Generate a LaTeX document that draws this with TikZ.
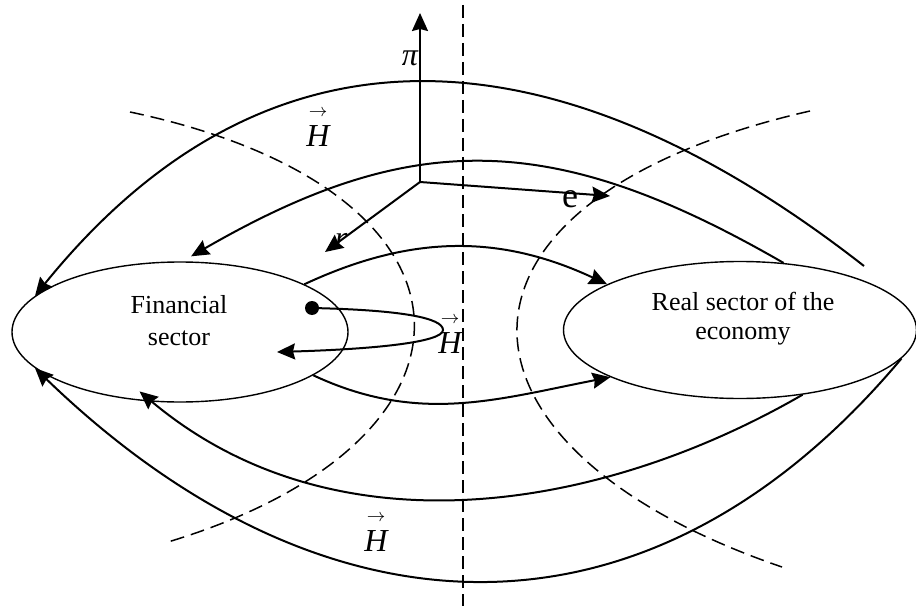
\documentclass[tikz,border=0pt]{standalone}
\usepackage{fontspec}
\setmainfont{Liberation Serif}
\usetikzlibrary{shapes.geometric,arrows.meta}
\begin{document}
\begin{tikzpicture}[x=0.5pt,y=-0.5pt,>={Stealth[length=9pt,width=8pt,inset=1pt]},
  sector/.style={draw, ellipse, line width=0.7pt, inner sep=0pt},
  flow/.style={->, line width=1pt},
  guide/.style={dash pattern=on 7pt off 3.5pt, line width=0.75pt},
  sym/.style={inner sep=0pt, font=\fontsize{16}{16}\selectfont\itshape},
  field/.style={sym, label={[inner sep=0pt, label distance=4pt, font=\fontsize{9}{9}\selectfont]above:$\rightarrow$}}]
\useasboundingbox (0,0) rectangle (916,610);

% sectors
\node[sector, minimum width=168pt, minimum height=70pt] (fin) at (180,332) {};
\node[sector, minimum width=176.5pt, minimum height=68.5pt] (real) at (740,330) {};
\node[align=center, font=\fontsize{13}{16}\selectfont] (fintext) at (179,321) {Financial\\sector};
\node[align=center, font=\fontsize{13}{14.5}\selectfont] (realtext) at (743,319) {Real sector of the\\economy};

% dashed guides
\draw[guide, dash pattern=on 6.5pt off 3pt] (463,5) -- (463,606);
\draw[guide] (130,112) .. controls (500,190) and (505,440) .. (168,542);
\draw[guide] (810,111) .. controls (420,200) and (428,446) .. (782,567);

% axes
\node[sym] (pilabel) at (410,58) {π};
\node[inner sep=0pt, font=\fontsize{18}{18}\selectfont] (elabel) at (570,199) {e};
\node[sym] (rlabel) at (341,241) {r};
\coordinate (o) at (420,182);
\coordinate (piend) at (420,13);
\coordinate (eend) at (610,196);
\coordinate (rend) at (325,252);
\draw[->, line width=1pt] (o) -- (piend);
\draw[->, line width=1pt] (o) -- (eend);
\draw[->, line width=1pt] (o) -- (rend);

% flows between the sectors
\coordinate (outstart) at (864,266);
\draw[flow] (outstart) to[out=142, in=51, looseness=1.17] (fin.166);
\draw[flow, shorten >=5pt] (real.57) to[out=150, in=30, looseness=1.13] (fin.88);
\draw[flow] (fin.21) to[out=25, in=155] (real.161);
\draw[flow] (fin.-18) to[out=-25, in=191] (real.-160);
\draw[flow, shorten >=-8pt] (real.-46) to[out=210, in=-40, looseness=0.93] (fin.-112);
\draw[flow] (real.-10) to[out=230, in=-44, looseness=1.17] (fin.194);

% loop inside the financial sector
\node[circle, fill, inner sep=0pt, minimum size=7pt] (dot) at (312,308) {};
\coordinate (turn) at (443,330);
\coordinate (back) at (277,352);
\draw[flow] (dot.center) .. controls +(90,2) and +(0,-12) .. (turn) .. controls +(0,12) and +(100,-3) .. (back);

% field labels
\node[field] (h1) at (318,136) {H};
\node[field] (h2) at (450,343) {H};
\node[field] (h3) at (376,541) {H};
\end{tikzpicture}
\end{document}
